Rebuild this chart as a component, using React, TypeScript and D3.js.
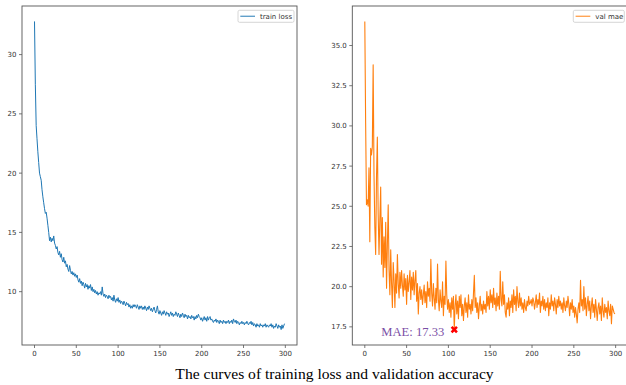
import React from 'react';
import * as d3 from 'd3';

// per-epoch values
const trainLoss = [
  32.8, 27.5, 24.0, 22.9, 21.8, 20.9, 20.0, 19.7, 19.4, 18.6,
  18.0, 17.5, 17.0, 16.6, 16.7, 16.2, 15.6, 15.0, 14.3, 14.6,
  14.2, 14.5, 14.3, 14.7, 14.1, 13.9, 13.6, 13.8, 13.3, 13.1,
  13.4, 12.9, 13.2, 12.7, 12.5, 12.9, 12.4, 12.6, 12.1, 12.3,
  11.9, 11.7, 12.2, 11.8, 11.5, 11.7, 11.4, 11.6, 11.3, 11.5,
  11.2, 11.4, 11.0, 10.8, 11.1, 10.7, 10.9, 10.5, 10.8, 10.6,
  10.3, 10.7, 10.4, 10.6, 10.2, 10.5, 10.3, 10.6, 10.1, 10.4,
  10.0, 10.2, 9.9, 10.1, 9.8, 10.0, 9.7, 9.9, 9.8, 10.0,
  9.7, 10.4, 9.8, 9.6, 9.8, 9.5, 9.7, 9.6, 9.4, 9.7,
  9.5, 9.6, 9.3, 9.5, 9.2, 9.7, 9.3, 9.1, 9.4, 9.2,
  9.5, 9.1, 9.3, 9.0, 9.2, 9.1, 8.9, 9.2, 9.0, 8.8,
  9.1, 8.9, 9.0, 8.7, 8.9, 8.6, 8.8, 8.6, 8.9, 8.7,
  8.9, 8.8, 8.6, 8.9, 8.7, 8.5, 8.8, 8.6, 8.8, 8.5,
  8.7, 8.5, 8.8, 8.6, 8.4, 8.7, 8.5, 8.8, 8.6, 8.4,
  8.6, 8.3, 8.5, 8.7, 8.4, 8.2, 8.5, 8.8, 8.3, 8.1,
  8.4, 8.2, 8.0, 8.3, 8.1, 8.4, 8.2, 8.0, 8.3, 8.1,
  8.2, 7.9, 8.1, 8.3, 8.0, 8.2, 7.9, 8.1, 8.0, 8.3,
  8.1, 7.9, 8.2, 8.0, 7.8, 8.1, 7.9, 8.2, 8.0, 7.8,
  8.1, 7.9, 8.0, 7.7, 8.0, 7.8, 7.9, 7.7, 8.0, 7.8,
  7.9, 7.6, 7.9, 7.7, 8.0, 7.8, 8.1, 7.9, 7.8, 7.6,
  7.8, 7.5, 7.7, 7.9, 7.6, 7.8, 7.5, 7.9, 7.6, 7.8,
  7.9, 7.6, 7.7, 7.5, 7.4, 7.6, 7.5, 7.7, 7.4, 7.6,
  7.5, 7.3, 7.6, 7.4, 7.5, 7.3, 7.6, 7.4, 7.5, 7.3,
  7.5, 7.4, 7.6, 7.3, 7.5, 7.4, 7.6, 7.3, 7.7, 7.5,
  7.4, 7.6, 7.3, 7.5, 7.4, 7.2, 7.4, 7.3, 7.5, 7.3,
  7.4, 7.2, 7.4, 7.3, 7.5, 7.3, 7.2, 7.4, 7.3, 7.5,
  7.2, 7.4, 7.1, 7.3, 7.2, 7.0, 7.3, 7.1, 7.2, 7.0,
  7.3, 7.1, 7.2, 7.0, 7.2, 7.1, 7.3, 7.0, 7.2, 7.1,
  7.0, 7.2, 7.1, 7.3, 7.0, 7.2, 6.9, 7.1, 7.0, 7.3,
  7.1, 6.9, 7.2, 7.0, 7.1, 6.8, 7.2, 6.9, 7.1, 7.3,
];

const valMae = [
  36.5, 30.2, 25.1, 25.4, 25.0, 27.4, 22.8, 28.6, 28.2, 28.7,
  33.8, 27.0, 23.7, 22.0, 26.8, 29.3, 24.5, 22.0, 24.2, 26.2,
  21.4, 24.3, 20.6, 23.1, 21.2, 24.0, 19.9, 22.6, 25.1, 21.0,
  19.5, 22.3, 20.2, 18.7, 21.5, 20.4, 18.7, 20.8, 19.6, 22.0,
  20.2, 19.3, 20.9, 19.9, 21.0, 20.1, 19.4, 20.8, 19.8, 20.5,
  18.9, 20.7, 19.7, 20.3, 21.0, 19.2, 20.6, 19.8, 20.9, 19.5,
  20.4, 21.0, 19.1, 20.2, 18.3, 19.6, 20.0, 19.2, 19.8, 18.9,
  19.5, 20.1, 19.0, 19.7, 18.7, 20.3, 19.4, 19.9, 19.1, 21.7,
  19.6, 18.8, 20.2, 19.3, 18.6, 19.9, 19.0, 21.4, 19.2, 18.5,
  19.8, 19.1, 18.7, 20.3, 18.2, 19.4, 18.9, 21.6, 19.5, 18.6,
  19.2, 18.4, 19.0, 18.1, 19.3, 18.6, 19.4, 17.33, 18.8, 19.5,
  18.3, 19.1, 18.0, 19.4, 18.7, 19.5, 18.2, 18.9, 17.9, 18.8,
  19.3, 18.4, 19.0, 18.1, 19.5, 18.6, 18.9, 18.3, 19.2, 18.5,
  19.6, 20.7, 18.7, 19.3, 18.4, 19.0, 18.0, 18.8, 19.4, 18.5,
  18.9, 18.3, 19.1, 18.6, 18.9, 18.4, 19.7, 18.8, 19.4, 18.6,
  19.8, 19.0, 19.5, 18.7, 19.9, 18.9, 19.3, 18.5, 19.6, 18.8,
  19.4, 18.6, 20.96, 19.2, 18.8, 20.3, 18.9, 19.5, 18.4, 18.1,
  19.0, 18.6, 19.3, 18.2, 19.1, 18.7, 19.5, 18.4, 19.8, 18.9,
  19.4, 18.5, 20.0, 19.1, 18.7, 19.6, 18.8, 19.3, 18.6, 19.0,
  18.4, 19.2, 18.7, 18.5, 19.1, 18.8, 19.4, 18.9, 19.0, 19.2,
  18.8, 19.3, 19.1, 18.6, 19.0, 19.5, 18.7, 19.2, 18.9, 19.6,
  18.4, 19.1, 18.8, 19.4, 18.6, 19.2, 18.5, 19.0, 18.7, 19.3,
  18.2, 19.0, 18.6, 19.5, 18.8, 19.1, 18.5, 19.3, 18.9, 18.3,
  19.2, 18.7, 19.4, 18.8, 19.1, 18.6, 19.0, 18.4, 19.3, 18.8,
  18.5, 19.1, 18.7, 19.4, 18.9, 18.2, 19.0, 18.6, 19.2, 18.4,
  18.8, 18.1, 18.7, 18.3, 17.75, 18.6, 19.0, 18.4, 20.4, 18.8,
  19.2, 18.5, 20.0, 18.6, 19.3, 18.2, 18.9, 19.4, 18.5, 19.1,
  18.0, 18.8, 19.3, 18.4, 18.9, 18.1, 19.2, 18.6, 17.9, 18.7,
  19.0, 18.3, 18.8, 17.9, 19.3, 18.5, 18.1, 18.9, 18.4, 18.7,
  18.0, 19.1, 18.5, 18.2, 18.9, 17.7, 18.8, 18.6, 18.4, 18.3,
];

const xTicks = [0, 50, 100, 150, 200, 250, 300];
const lossTicks = [10, 15, 20, 25, 30];
const maeTicks = [17.5, 20.0, 22.5, 25.0, 27.5, 30.0, 32.5, 35.0];

const W = 626;
const H = 385;
const top = 6;
const bottom = 345;
const plotW = 275;
const tickFont = 'DejaVu Sans, sans-serif';

// matplotlib style 5% padding
function padded(vals: number[]) {
  const [lo, hi] = d3.extent(vals) as [number, number];
  const m = (hi - lo) * 0.05;
  return [lo - m, hi + m];
}

function Panel({ left, data, color, label, ticks, fmt, legendW, lw, children }: any) {
  const x = d3.scaleLinear().domain(padded([0, data.length - 1])).range([left, left + plotW]);
  const y = d3.scaleLinear().domain(padded(data)).range([bottom, top]);
  const line = d3.line<number>().x((d, i) => x(i)).y(d => y(d));
  const lx = left + plotW - 3 - legendW;

  return (
    <g>
      <path d={line(data) || ''} fill="none" stroke={color} strokeWidth={lw} strokeLinejoin="round" />
      <rect x={left} y={top} width={plotW} height={bottom - top} fill="none" stroke="#555" strokeWidth={0.9} />
      {xTicks.map(t => (
        <g key={'x' + t} transform={`translate(${x(t)},${bottom})`}>
          <line y2={3} stroke="#555" strokeWidth={0.8} />
          <text y={10.5} textAnchor="middle" fontSize={7} fontFamily={tickFont} fill="#333">{t}</text>
        </g>
      ))}
      {ticks.map((t: number) => (
        <g key={'y' + t} transform={`translate(${left},${y(t)})`}>
          <line x2={-3} stroke="#555" strokeWidth={0.8} />
          <text x={-5.5} dy="0.35em" textAnchor="end" fontSize={7} fontFamily={tickFont} fill="#333">{fmt(t)}</text>
        </g>
      ))}
      <g transform={`translate(${lx},${top + 4.3})`}>
        <rect width={legendW} height={12} rx={1.5} fill="#fff" fillOpacity={0.8} stroke="#ccc" strokeWidth={0.8} />
        <line x1={2.3} x2={17} y1={6} y2={6} stroke={color} strokeWidth={1.4} strokeOpacity={0.7} />
        <text x={22} y={8.5} fontSize={7} fontFamily={tickFont} fill="#333">{label}</text>
      </g>
      {children && children(x, y)}
    </g>
  );
}

export default function App() {
  const best = d3.minIndex(valMae);
  const cross = d3.symbol(d3.symbolCross, 32)();

  return (
    <svg width={W} height={H} style={{ position: 'absolute', left: 0, top: 0, background: '#fff' }}>
      <Panel left={22} data={trainLoss} color="#1f77b4" label="train loss" ticks={lossTicks}
        fmt={(t: number) => String(t)} legendW={56} lw={1} />
      <Panel left={352.3} data={valMae} color="#ff7f0e" label="val mae" ticks={maeTicks}
        fmt={d3.format('.1f')} legendW={51} lw={1.1}>
        {(x: any, y: any) => (
          <g>
            <path d={cross || ''} fill="#ff0000" transform={`translate(${x(best)},${y(valMae[best])}) rotate(45)`} />
            <text x={x(best) - 10} y={336} textAnchor="end" fontSize={12.6}
              fontFamily="Liberation Serif, Times New Roman, serif" fill="#7b4fa6">
              MAE: {valMae[best].toFixed(2)}
            </text>
          </g>
        )}
      </Panel>
      <text x={334.5} y={379} textAnchor="middle" fontSize={15.6}
        fontFamily="Liberation Serif, Times New Roman, serif" fill="#000">
        The curves of training loss and validation accuracy
      </text>
    </svg>
  );
}
